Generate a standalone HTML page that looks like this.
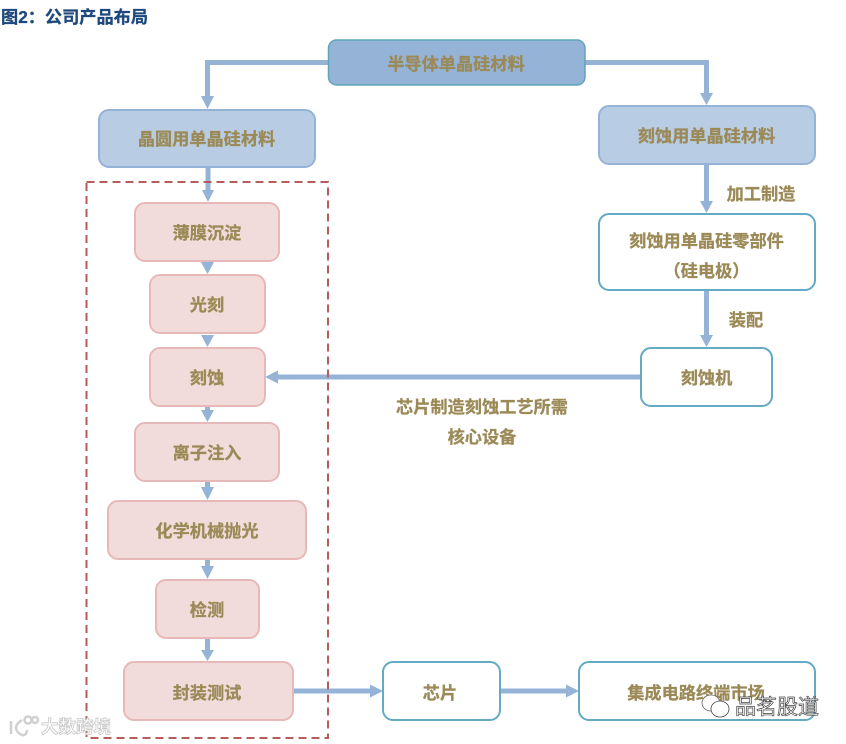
<!DOCTYPE html>
<html lang="zh">
<head>
<meta charset="utf-8">
<style>
html,body{margin:0;padding:0;background:#fff;width:846px;height:744px;overflow:hidden}
svg{display:block}
text{font-family:"Liberation Sans","Noto Sans CJK SC",sans-serif}
.l{font-size:17.2px;font-weight:700;fill:#9b8a57;stroke:#9b8a57;stroke-width:.3px;text-anchor:middle}
.p{fill:#f2dcdb;stroke:#e6b9b8;stroke-width:2}
.b{fill:#b8cce4;stroke:#95b3d7;stroke-width:2}
.w{fill:#fff;stroke:#63aac2;stroke-width:2}
.c{fill:none;stroke:#95b3d7;stroke-width:5}
.a{fill:#95b3d7}
</style>
</head>
<body>
<svg width="846" height="744" viewBox="0 0 846 744" xmlns="http://www.w3.org/2000/svg">
<rect width="846" height="744" fill="#fff"/>
<text x="1" y="23" font-size="17.200" font-weight="700" fill="#1f497d" stroke="#1f497d" stroke-width=".3">图2：公司产品布局</text>

<path class="c" d="M328 62.500H207.500V97"/>
<path class="a" d="M201 96H214L207.500 109Z"/>
<path class="c" d="M585 62.500H706.500V94"/>
<path class="a" d="M700 93H713L706.500 105Z"/>
<path class="c" d="M208 167V191"/>
<path class="a" d="M202 190H214L208 202Z"/>
<path class="a" d="M201 262H214L207.500 274ZM201 335H214L207.500 347Z"/>
<path class="c" d="M207.500 406V411M207.500 481V488M207.500 559V567M207.500 638V651"/>
<path class="a" d="M201 410H214L207.500 422ZM201 487H214L207.500 500ZM201 566H214L207.500 579ZM201 650H214L207.500 661Z"/>
<path class="c" d="M706.500 164V201"/>
<path class="a" d="M700 201H713L706.500 213Z"/>
<path class="c" d="M706.500 290V336"/>
<path class="a" d="M700 335H713L706.500 347Z"/>
<path class="c" d="M641 377H277"/>
<path class="a" d="M278 370.500V383.500L265 377Z"/>
<path class="c" d="M293 691H371"/>
<path class="a" d="M370 684.500V697.500L383 691Z"/>
<path class="c" d="M500 691H567"/>
<path class="a" d="M566 684.500V697.500L579 691Z"/>

<rect x="86.500" y="182" width="241.500" height="556" fill="none" stroke="#b65c5a" stroke-width="2" stroke-dasharray="8 5"/>

<rect x="328.500" y="40" width="256.500" height="45" rx="8" fill="#95b3d7" stroke="#5fa5b8" stroke-width="1.500"/>
<text class="l" x="456" y="70">半导体单晶硅材料</text>
<rect class="b" x="99" y="110" width="216" height="57" rx="10"/>
<text class="l" x="206.500" y="145">晶圆用单晶硅材料</text>
<rect class="b" x="599" y="106" width="216" height="58" rx="10"/>
<text class="l" x="706.500" y="142">刻蚀用单晶硅材料</text>

<rect class="p" x="135" y="203" width="144" height="58" rx="10"/>
<text class="l" x="207" y="239">薄膜沉淀</text>
<rect class="p" x="150" y="275" width="115" height="58" rx="10"/>
<text class="l" x="207" y="311">光刻</text>
<rect class="p" x="150" y="348" width="115" height="58" rx="10"/>
<text class="l" x="207" y="384">刻蚀</text>
<rect class="p" x="135" y="423" width="144" height="58" rx="10"/>
<text class="l" x="207" y="459">离子注入</text>
<rect class="p" x="108" y="501" width="198" height="58" rx="10"/>
<text class="l" x="207" y="537">化学机械抛光</text>
<rect class="p" x="156" y="580" width="103" height="58" rx="10"/>
<text class="l" x="207" y="616">检测</text>
<rect class="p" x="124" y="662" width="169" height="58" rx="10"/>
<text class="l" x="207" y="699">封装测试</text>

<rect class="w" x="599" y="214" width="216" height="76" rx="10"/>
<text class="l" x="706.500" y="247">刻蚀用单晶硅零部件</text>
<text class="l" x="706.500" y="277">（硅电极）</text>
<rect class="w" x="641" y="348" width="131" height="58" rx="10"/>
<text class="l" x="706.500" y="384">刻蚀机</text>
<rect class="w" x="383" y="662" width="117" height="58" rx="10"/>
<text class="l" x="440" y="699">芯片</text>
<rect class="w" x="579" y="662" width="236" height="58" rx="10"/>
<text class="l" x="696" y="699">集成电路终端市场</text>

<text class="l" x="761" y="200">加工制造</text>
<text class="l" x="746" y="326">装配</text>
<text class="l" x="482" y="413">芯片制造刻蚀工艺所需</text>
<text class="l" x="482" y="443">核心设备</text>

<!-- watermark: 大数跨境 -->
<g fill="none" stroke="#d0d0d0" stroke-width="2.500">
<path d="M11 721V734M22 720C14 725 14 731 22 735C25 736 27 733 27 730"/>
<circle cx="28" cy="720" r="3.500"/>
<circle cx="35" cy="720" r="3"/>
</g>
<text x="41" y="733" font-size="17.500" font-weight="700" fill="#fff" stroke="#c8c8c8" stroke-width="0.800">大数跨境</text>

<!-- watermark: 品茗股道 -->
<ellipse cx="711" cy="703" rx="9" ry="8" fill="#fff" stroke="#666" stroke-width="0.800"/>
<ellipse cx="720" cy="709" rx="9" ry="8" fill="#fff" stroke="#444" stroke-width="0.800"/>
<text x="735" y="714" font-size="21" font-weight="400" fill="#fff" stroke="#444" stroke-width="0.700">品茗股道</text>
</svg>
</body>
</html>
